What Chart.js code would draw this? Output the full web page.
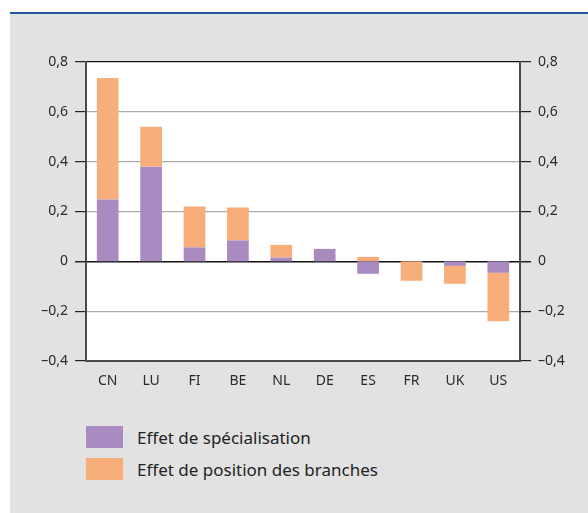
<!DOCTYPE html>
<html>
<head>
<meta charset="utf-8">
<script src="https://cdn.jsdelivr.net/npm/chart.js@4/dist/chart.umd.min.js"></script>
<style>
  body { margin: 0; background: #fff; font-family: "Noto Sans", sans-serif; }
  #topline { position: absolute; left: 10px; top: 12px; width: 578px; height: 2px; background: #1f5b99; }
  #panel { position: absolute; left: 10px; top: 14px; width: 578px; height: 499px; background: #e2e2e2; }
  #wrap { position: absolute; left: 0; top: 0; width: 578px; height: 382px; }
  #legend { position: absolute; left: 76px; top: 407px; }
  .item { display: flex; align-items: center; height: 32px; }
  .box { width: 37px; height: 22px; margin-right: 14px; }
  .txt { font-size: 17px; color: #222; }
</style>
</head>
<body>
<div id="topline"></div>
<div id="panel">
  <div id="wrap"><canvas id="chart" width="578" height="382"></canvas></div>
  <div id="legend"></div>
</div>
<script>
// pays
let countries = ['CN', 'LU', 'FI', 'BE', 'NL', 'DE', 'ES', 'FR', 'UK', 'US'];
// Effet de spécialisation
let specialisation = [0.248, 0.38, 0.056, 0.084, 0.015, 0.05, -0.05, 0, -0.018, -0.046];
// Effet de position des branches
let branches = [0.488, 0.16, 0.164, 0.132, 0.051, 0, 0.018, -0.078, -0.072, -0.194];
let seriesNames = ['Effet de spécialisation', 'Effet de position des branches'];
let seriesColors = ['#a98bc2', '#f7ae7a'];
// graduations
let tickValues = [-0.4, -0.2, 0, 0.2, 0.4, 0.6, 0.8];
let tickLabels = ['–0,4', '–0,2', '0', '0,2', '0,4', '0,6', '0,8'];

const labelFor = (v) => {
    let i = tickValues.findIndex(t => Math.abs(t - v) < 1e-6);
    return i >= 0 ? tickLabels[i] : '';
};

const plotBg = {
    id: 'plotBg',
    beforeDraw(chart) {
        const a = chart.chartArea;
        const ctx = chart.ctx;
        ctx.save();
        ctx.fillStyle = '#ffffff';
        ctx.fillRect(a.left, a.top, a.right - a.left, a.bottom - a.top);
        ctx.restore();
    }
};

const yAxis = (pos) => ({
    position: pos,
    stacked: true,
    min: -0.4,
    max: 0.8,
    afterFit: (s) => { s.width = pos === 'left' ? 76 : 68; },
    border: { color: '#4a4a4a', width: 2 },
    grid: {
        drawOnChartArea: pos === 'left',
        tickLength: 11,
        tickColor: '#222',
        color: (c) => (c.tick && (Math.abs(c.tick.value) < 1e-6 || c.tick.value > 0.79)) ? '#111' : '#ababab',
        lineWidth: (c) => (c.tick && Math.abs(c.tick.value) < 1e-6) ? 1.5 : 1.2
    },
    ticks: {
        stepSize: 0.2,
        padding: 7,
        color: '#2a2a2a',
        font: { family: 'Noto Sans', size: 14 },
        callback: (v) => labelFor(v)
    }
});

new Chart(document.getElementById('chart'), {
    type: 'bar',
    data: {
        labels: countries,
        datasets: [
            { label: seriesNames[0], data: specialisation, backgroundColor: seriesColors[0] },
            { label: seriesNames[1], data: branches, backgroundColor: seriesColors[1] }
        ]
    },
    options: {
        responsive: false,
        animation: false,
        maintainAspectRatio: false,
        layout: { padding: { top: 48 } },
        datasets: { bar: { categoryPercentage: 0.5, barPercentage: 1 } },
        plugins: { legend: { display: false }, tooltip: { enabled: false } },
        scales: {
            x: {
                stacked: true,
                afterFit: (s) => { s.height = 35; },
                border: { color: '#4a4a4a', width: 2 },
                grid: { display: false, drawTicks: false },
                ticks: { padding: 12, autoSkip: false, maxRotation: 0, color: '#2a2a2a', font: { family: 'Noto Sans', size: 14 } }
            },
            y: yAxis('left'),
            y2: yAxis('right')
        }
    },
    plugins: [plotBg]
});

// légende
let legend = document.getElementById('legend');
seriesNames.forEach((name, i) => {
    let row = document.createElement('div');
    row.className = 'item';
    row.innerHTML = '<div class="box" style="background:' + seriesColors[i] + '"></div><span class="txt">' + name + '</span>';
    legend.appendChild(row);
});
</script>
</body>
</html>
